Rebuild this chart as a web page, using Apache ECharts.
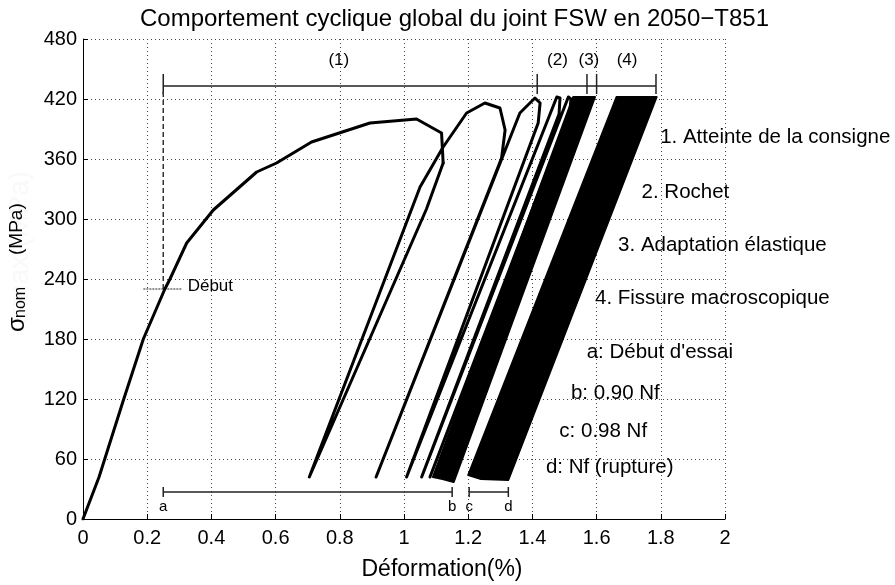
<!DOCTYPE html>
<html>
<head>
<meta charset="utf-8">
<script src="https://cdn.jsdelivr.net/npm/echarts@6/dist/echarts.min.js"></script>
<style>
  html, body { margin: 0; padding: 0; background: #fff; }
  #chart { width: 895px; height: 585px; }
</style>
</head>
<body>
<div id="chart"></div>
<script>
const FONT = '"Liberation Sans", Arial, Helvetica, sans-serif';

// Axis ticks
const strainTicks = [0, 0.2, 0.4, 0.6, 0.8, 1, 1.2, 1.4, 1.6, 1.8, 2];
const stressTicks = [0, 60, 120, 180, 240, 300, 360, 420, 480];

// First monotonic loading up to the set point
const monoStrain = [0, 0.05, 0.126, 0.188, 0.255, 0.271, 0.323, 0.406, 0.541, 0.603, 0.712, 0.894, 1.039, 1.117, 1.122];
const monoStress = [0, 42, 119, 180, 230, 240, 276, 309, 347, 356, 377, 396, 400, 386, 356];

// Early individual cycles (unload / reload branches)
const cycleStrain = [1.122, 1.07, 0.705, 1.05, 1.122, 1.195, 1.252, 1.299, 1.315, 1.304, 0.913, 1.361, 1.408, 1.424, 1.418, 1.008, 1.476, 1.486, 1.483, 1.055, 1.512, 1.52, 1.517, 1.081];
const cycleStress = [356, 310, 42, 332, 372, 406, 416, 411, 389, 361, 42, 406, 421, 416, 396, 42, 422, 421, 405, 42, 422, 420, 408, 42];

// Dense cycle envelopes: ratcheting / shakedown, then macroscopic crack
const band23Strain = [1.09, 1.527, 1.595, 1.155, 1.12];
const band23Stress = [42, 422, 422, 37, 40];
const band4Strain = [1.2, 1.662, 1.787, 1.325, 1.24];
const band4Stress = [44, 422, 422, 39, 40];

// Stage bracket (1)-(4)
const stageTickStrain = [0.25, 1.415, 1.57, 1.60, 1.785];
const stageLabels = ['(1)', '(2)', '(3)', '(4)'];
const stageLabelStrain = [0.797, 1.478, 1.576, 1.695];
const stageBracketStress = 433;
const stageLabelStress = 459;

// Start of test marker
const startStrain = 0.25;
const startStress = 230;

// Cycle markers a-d
const markerStrain = [0.25, 1.15, 1.203, 1.325];
const markerLabels = ['a', 'b', 'c', 'd'];
const markerStress = 27;
const markerLabelStress = 12;

// Notes on the right
const noteTexts = ['1. Atteinte de la consigne', '2. Rochet', '3. Adaptation élastique', '4. Fissure macroscopique', "a: Début d'essai", 'b: 0.90 Nf', 'c: 0.98 Nf', 'd: Nf (rupture)'];
const noteStrain = [1.798, 1.740, 1.667, 1.595, 1.569, 1.520, 1.484, 1.442];
const noteStress = [382, 327, 274, 221, 167, 126, 88, 52];

const chart = echarts.init(document.getElementById('chart'), null, { renderer: 'canvas' });

const pairs = (xs, ys) => xs.map((x, i) => [x, ys[i]]);

// Bracket segments built from the stage and marker arrays
const solidSegs = [];
solidSegs.push([stageTickStrain[0], stageBracketStress, stageTickStrain[stageTickStrain.length - 1], stageBracketStress]);
stageTickStrain.forEach(x => solidSegs.push([x, stageBracketStress - 8, x, stageBracketStress + 12]));
solidSegs.push([markerStrain[0], markerStress, markerStrain[1], markerStress]);
solidSegs.push([markerStrain[2], markerStress, markerStrain[3], markerStress]);
markerStrain.forEach(x => solidSegs.push([x, markerStress - 5, x, markerStress + 5]));

const dashedSegs = [[startStrain, startStress, startStrain, stageBracketStress - 6]];
const dottedSegs = [[startStrain - 0.062, startStress, startStrain + 0.057, startStress]];

function segSeries(data, stroke, width, dash) {
  return {
    type: 'custom', silent: true, clip: false, z: 4,
    encode: { x: [0, 2], y: [1, 3] },
    data: data,
    renderItem: (params, api) => {
      const p1 = api.coord([api.value(0), api.value(1)]);
      const p2 = api.coord([api.value(2), api.value(3)]);
      return {
        type: 'line',
        shape: { x1: p1[0], y1: p1[1], x2: p2[0], y2: p2[1] },
        style: { stroke: stroke, lineWidth: width, lineDash: dash }
      };
    }
  };
}

const bands = [[band23Strain, band23Stress], [band4Strain, band4Stress]];

const textItems = [];
stageLabels.forEach((t, i) => textItems.push([stageLabelStrain[i], stageLabelStress, t, 'center', 17]));
markerLabels.forEach((t, i) => textItems.push([markerStrain[i], markerLabelStress, t, 'center', 15]));
textItems.push([startStrain + 0.076, startStress + 3, 'Début', 'left', 17]);
noteTexts.forEach((t, i) => textItems.push([noteStrain[i], noteStress[i], t, 'left', 20.5]));

const option = {
  animation: false,
  backgroundColor: '#fff',
  grid: { left: 83, right: 170, top: 39, bottom: 66, containLabel: false },
  xAxis: {
    type: 'value',
    min: strainTicks[0], max: strainTicks[strainTicks.length - 1],
    interval: strainTicks[1] - strainTicks[0],
    axisLine: { show: true, onZero: false, lineStyle: { color: '#000', width: 1 } },
    axisTick: { show: true, inside: true, length: 5, lineStyle: { color: '#000' } },
    axisLabel: { color: '#000', fontSize: 20, fontFamily: FONT, margin: 9 },
    splitLine: { show: true, lineStyle: { color: '#444', width: 1, type: [1, 3] } }
  },
  yAxis: {
    type: 'value',
    min: stressTicks[0], max: stressTicks[stressTicks.length - 1],
    interval: stressTicks[1] - stressTicks[0],
    axisLine: { show: true, onZero: false, lineStyle: { color: '#000', width: 1 } },
    axisTick: { show: true, inside: true, length: 5, lineStyle: { color: '#000' } },
    axisLabel: { color: '#000', fontSize: 20, fontFamily: FONT, margin: 6 },
    splitLine: { show: true, lineStyle: { color: '#444', width: 1, type: [1, 3] } }
  },
  graphic: [
    {
      type: 'text', x: 140, y: 19,
      style: { text: 'Comportement cyclique global du joint FSW en 2050\u2212T851', font: '24px ' + FONT, fill: '#000', align: 'left', verticalAlign: 'middle' }
    },
    {
      type: 'text', x: 442, y: 570,
      style: { text: 'Déformation(%)', font: '23px ' + FONT, fill: '#000', align: 'center', verticalAlign: 'middle' }
    },
    {
      type: 'text', x: 20, y: 248, rotation: Math.PI / 2,
      style: { text: '\u03c3max (MPa)', font: '28px ' + FONT, fill: '#f9f9f9', align: 'center', verticalAlign: 'middle' }
    },
    {
      type: 'group', x: 17, y: 332, rotation: Math.PI / 2,
      children: [
        { type: 'text', x: 0, y: 0, style: { text: '\u03c3', font: '24px ' + FONT, fill: '#000', align: 'left', verticalAlign: 'middle' } },
        { type: 'text', x: 14, y: 4, style: { text: 'nom', font: '16px ' + FONT, fill: '#000', align: 'left', verticalAlign: 'middle' } },
        { type: 'text', x: 77, y: 0, style: { text: '(MPa)', font: '19px ' + FONT, fill: '#000', align: 'left', verticalAlign: 'middle' } }
      ]
    }
  ],
  series: [
    {
      type: 'custom', silent: true, clip: false, z: 3,
      encode: { x: 0, y: 1 },
      data: bands.map((b, i) => [b[0][0], b[1][0], i]),
      renderItem: (params, api) => {
        const b = bands[api.value(2)];
        const pts = b[0].map((x, k) => api.coord([x, b[1][k]]));
        return {
          type: 'polygon',
          shape: { points: pts },
          style: { fill: '#000', stroke: '#000', lineWidth: 2, lineJoin: 'round' }
        };
      }
    },
    {
      type: 'line', silent: true, z: 5, showSymbol: false, symbol: 'none',
      data: pairs(monoStrain, monoStress),
      lineStyle: { color: '#000', width: 3, join: 'round', cap: 'round' }
    },
    {
      type: 'line', silent: true, z: 5, showSymbol: false, symbol: 'none',
      data: pairs(cycleStrain, cycleStress),
      lineStyle: { color: '#000', width: 3, join: 'round', cap: 'round' }
    },
    segSeries(solidSegs, '#222', 1.5, null),
    segSeries(dashedSegs, '#333', 1.5, [5, 3]),
    segSeries(dottedSegs, '#222', 1, [2, 1]),
    {
      type: 'custom', silent: true, clip: false, z: 6,
      encode: { x: 0, y: 1 },
      data: textItems.map((t, i) => [t[0], t[1], i]),
      renderItem: (params, api) => {
        const t = textItems[api.value(2)];
        const p = api.coord([t[0], t[1]]);
        return {
          type: 'text', x: p[0], y: p[1],
          style: { text: t[2], font: t[4] + 'px ' + FONT, fill: '#000', align: t[3], verticalAlign: 'middle' }
        };
      }
    }
  ]
};

chart.setOption(option);
</script>
</body>
</html>
